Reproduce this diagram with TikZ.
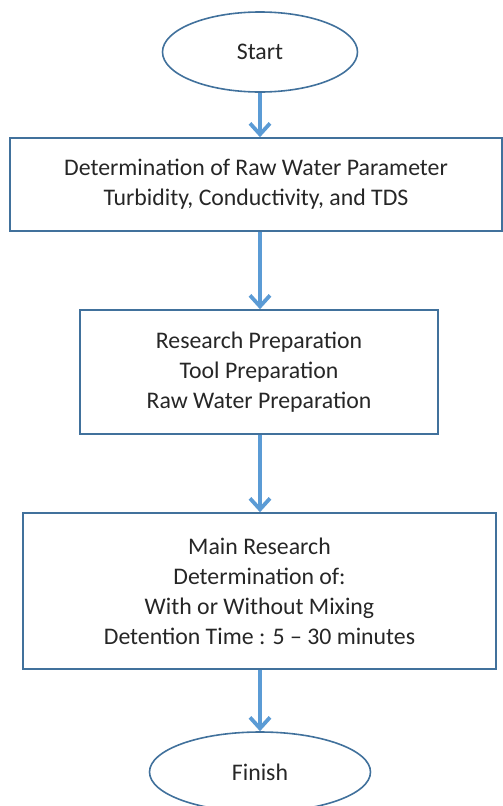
\documentclass[tikz,border=0pt]{standalone}
\usepackage{fontspec}
\setmainfont{Carlito}
\usetikzlibrary{arrows.meta,shapes.geometric}
\definecolor{boxline}{HTML}{41719C}
\definecolor{flowline}{HTML}{5B9BD5}
\definecolor{txt}{HTML}{262626}
\tikzset{stepbox/.style = {draw=boxline, line width=1.6pt, rectangle, inner sep=0pt,
                           align=center, text=txt, font=\fontsize{23.8}{30}\selectfont},
         term/.style = {draw=boxline, line width=1.6pt, ellipse, inner sep=0pt,
                        text=txt, font=\fontsize{23.8}{30}\selectfont},
         flow/.style = {-{Straight Barb[length=11pt,width=20pt]}, draw=flowline, line width=3.8pt}}
\begin{document}
\begin{tikzpicture}[x=1pt,y=-1pt]
    \useasboundingbox (0,0) rectangle (503,806);

    \node[term, minimum width=195pt, minimum height=80pt] (start) at (260,52) {Start};
    \node[stepbox, minimum width=492pt, minimum height=93pt] (param) at (256,184.5)
        {Determination of Raw Water Parameter\\Turbidity, Conductivity, and TDS};
    \node[stepbox, minimum width=358pt, minimum height=124pt] (prep) at (259,372)
        {Research Preparation\\Tool Preparation\\Raw Water Preparation};
    \node[stepbox, minimum width=473pt, minimum height=156pt] (main) at (259.5,591)
        {Main Research\\Determination of:\\With or Without Mixing\\Detention Time : 5 -- 30 minutes};
    \node[term, minimum width=221pt, minimum height=80pt] (finish) at (260,772) {Finish};

    \draw[flow] (start.south) -- (start.south |- param.north);
    \draw[flow] (start.south |- param.south) -- (start.south |- prep.north);
    \draw[flow] (start.south |- prep.south) -- (start.south |- main.north);
    \draw[flow] (start.south |- main.south) -- (finish.north);
\end{tikzpicture}
\end{document}
